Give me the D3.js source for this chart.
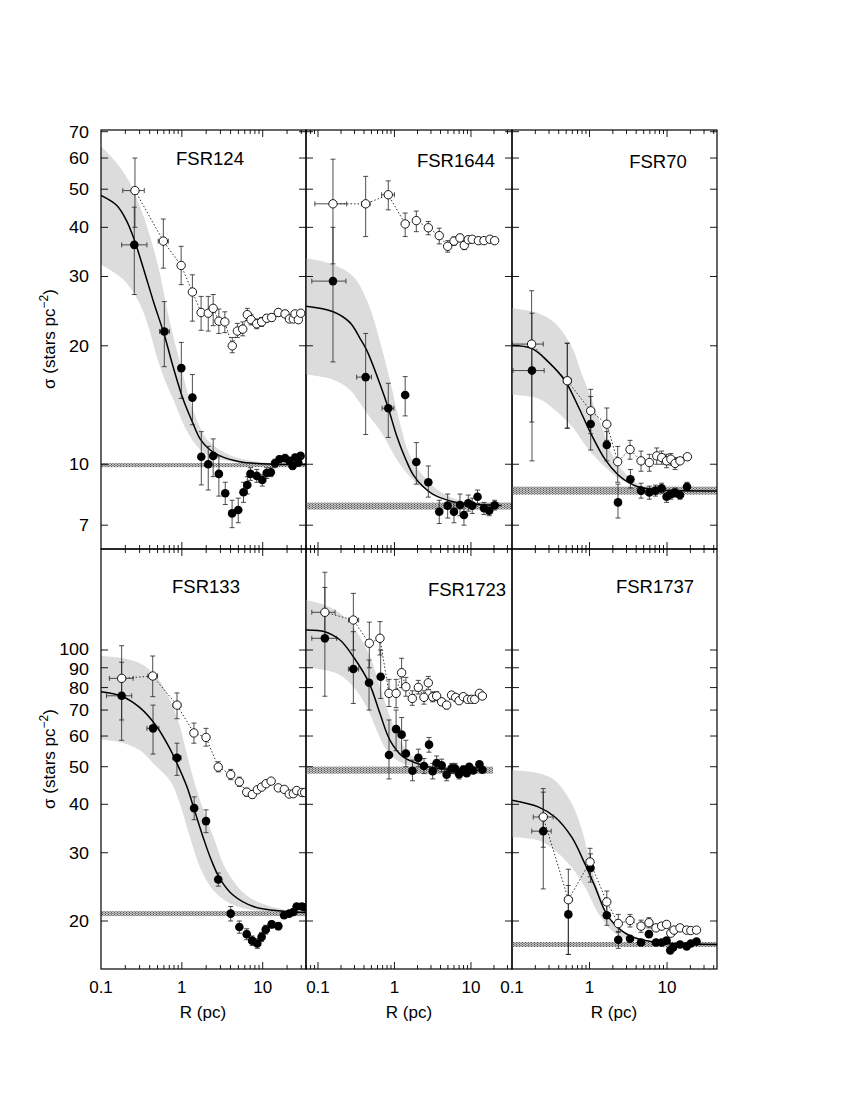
<!DOCTYPE html>
<html><head><meta charset="utf-8">
<script src="https://cdn.jsdelivr.net/npm/d3@7"></script>
<style>
body{margin:0;background:#fff}
text{font-family:"Liberation Sans",Arial,Helvetica,sans-serif;fill:#000}
</style>
</head><body>
<svg id="c" width="850" height="1100"></svg>
<script>
// ---------- tick labels ----------
const xTickLabels = [0.1, 1, 10];
const yTicksTop = [7, 10, 20, 30, 40, 50, 60, 70];
const yTicksBottom = [20, 30, 40, 50, 60, 70, 80, 90, 100];
const clusterNames = ["FSR124", "FSR1644", "FSR70", "FSR133", "FSR1723", "FSR1737"];

// rows: [R, sigma, sigmaLow, sigmaHigh, Rlow, Rhigh]
// ---------- FSR124 ----------
const FSR124_raw = [
 [0.263,49.6,40,60,0.186,0.343],[0.59,36.9,31.5,42,0.51,0.68],[0.98,32.0,28.6,35.8,0.92,1.04],
 [1.35,27.4,23.1,30.3],[1.73,24.3,21.9,26.7],[2.12,24.2,21.8,26.7],[2.44,24.9,22.5,27.0],
 [2.87,23.1,21.5,24.8],[3.4,23.0,21.6,24.4],[4.2,20.0,19.2,21.0],[4.86,21.8,21.0,22.8],
 [5.66,22.05,21.2,23.0],[6.45,24.0,23.2,24.9],[7.17,23.3,22.6,24.0],[8.43,22.75,22.1,23.4],
 [9.7,23.0,22.4,23.6],[11.2,23.5,23.0,24.0],[12.9,23.6,23.1,24.1],[15.6,24.3,23.8,24.8],
 [18.9,24.1,23.6,24.6],[21.4,23.4,23.0,23.9],[23.9,23.4,23.0,23.8],[25.1,24.1,23.7,24.5],
 [27.6,23.3,22.9,23.7],[29.5,24.2,23.8,24.6]
];
const FSR124_dec = [
 [0.258,36.1,27,45,0.18,0.37],[0.607,21.75,17.7,25.9,0.53,0.70],[0.985,17.55,14.7,20.4],
 [1.35,14.77,12.6,16.9],[1.74,10.45,8.86,12.1],[2.12,10.0,8.6,11.1],[2.44,10.5,9.3,11.6],
 [2.87,9.45,8.3,10.5],[3.44,8.44,7.9,9.0],[4.18,7.5,6.9,8.1],[4.98,7.65,7.1,8.2],
 [5.78,8.49,8.0,9.0],[6.45,8.86,8.4,9.3],[7.05,9.45,9.1,9.8],[8.43,9.34,9.0,9.7],
 [9.88,9.12,8.8,9.4],[11.2,9.5,9.2,9.8],[12.6,9.54,9.3,9.8],[14.2,10.06,9.8,10.3],
 [16.1,10.3,10.1,10.5],[18.9,10.36,10.15,10.6],[21.4,10.2,10.0,10.4],[23.4,9.9,9.7,10.1],
 [25.2,10.4,10.2,10.6],[27.5,10.1,9.9,10.3],[29.4,10.5,10.3,10.7]
];
const FSR124_fit = [[0.1,48.2],[0.156,45.5],[0.208,41.5],[0.258,37.2],[0.334,31.5],[0.443,26.0],[0.607,21.3],[0.785,17.6],[1.04,14.6],[1.35,12.8],[1.68,11.6],[2.2,10.9],[2.96,10.5],[5.2,10.15],[13.5,10.0],[34.3,9.98]];
const FSR124_bandHi = [[0.1,64.3],[0.156,58.3],[0.228,51.9],[0.303,45.2],[0.403,38.0],[0.536,30.5],[0.65,25.0],[0.8,20.8],[0.95,18.1],[1.15,15.5],[1.38,13.7],[2.03,11.6],[3.58,10.65],[6.3,10.25],[15,10.05],[34.3,10.0]];
const FSR124_bandLo = [[0.1,32.2],[0.188,29.5],[0.303,25.5],[0.4,21.8],[0.488,18.8],[0.6,16.6],[0.785,14.6],[1.14,12.2],[1.68,10.9],[2.5,10.4],[5,10.1],[34.3,9.98]];
const FSR124_bg = [9.95, 0.12, 34.3];

// ---------- FSR1644 ----------
const FSR1644_raw = [
 [0.157,45.9,32.3,59.6,0.091,0.237],[0.42,45.9,37.9,53.9,0.37,0.48],[0.83,48.4,44.3,52.5,0.68,1.0],
 [1.38,40.8,37.9,43.5],[1.93,41.6,39.0,44.0],[2.77,39.9,38.3,41.4],[3.85,38.1,36.3,39.8],
 [4.96,35.8,34.6,37.0],[6.0,36.9,36.0,37.8],[7.18,37.6,36.8,38.4],[8.18,36.0,35.1,36.9],
 [9.22,37.2,36.5,37.9],[10.4,37.3],[12.5,37.0],[14.8,37.0],[17.7,37.3],[20.4,37.0]
];
const FSR1644_dec = [
 [0.157,29.2,18.2,40,0.083,0.232],[0.42,16.65,11.9,21.5,0.32,0.5],[0.83,13.88,11.7,16.06,0.69,0.98],
 [1.38,15.0,13.27,16.7],[1.93,10.13,8.9,11.35],[2.77,9.0,8.25,9.9],[3.85,7.57,7.07,8.1],
 [4.96,7.85,7.3,8.4],[6.0,7.57,7.1,8.0],[7.18,7.88,7.4,8.4],[8.1,7.43,7.0,7.9],
 [9.22,7.96,7.6,8.35],[10.4,7.85,7.5,8.2],[12.2,8.27,7.95,8.6],[14.8,7.73,7.45,8.0],
 [17.3,7.62,7.4,7.9],[20.4,7.87,7.65,8.1]
];
const FSR1644_fit = [[0.0697,25.2],[0.158,24.4],[0.262,22.9],[0.354,20.9],[0.433,19.5],[0.646,16.0],[0.83,13.9],[1.07,11.8],[1.4,10.3],[1.76,9.4],[2.4,8.75],[3.2,8.38],[5.85,8.03],[12,7.9],[25,7.85]];
const FSR1644_bandHi = [[0.0697,33.4],[0.158,32.2],[0.29,30.0],[0.433,26.2],[0.53,23.5],[0.646,20.5],[0.87,16.4],[1.18,12.7],[1.6,10.5],[2.64,9.12],[4.3,8.44],[10,7.95],[25,7.85]];
const FSR1644_bandLo = [[0.0697,16.9],[0.158,16.4],[0.262,15.45],[0.433,13.5],[0.646,12.2],[1.18,10.0],[1.95,8.95],[3.2,8.44],[6,8.05],[25,7.85]];
const FSR1644_bg = [7.83, 0.16, 34.4];

// ---------- FSR70 ----------
const FSR70_raw = [
 [0.179,20.2,12.8,27.6,0.101,0.253],[0.517,16.3,12.35,20.3,0.46,0.58],[1.035,13.67,11.96,15.5,0.96,1.12],
 [1.67,12.64,11.5,13.9],[2.31,10.15,9.0,11.1],[3.33,10.9,10.3,11.5],[4.62,10.2,9.6,10.8],
 [5.91,10.1,9.6,10.6],[7.36,10.5,10.0,11.0],[8.52,10.4,10.0,10.8],[9.86,10.2,9.8,10.6],
 [11.2,10.3,9.95,10.65],[12.7,10.05,9.7,10.4],[14.7,10.2],[18.3,10.45]
];
const FSR70_dec = [
 [0.181,17.3,10.2,24.2,0.103,0.26],[0.517,16.3,12.35,20.3],[1.035,12.66,10.87,14.86,0.97,1.11],
 [1.67,11.2,10.2,12.1],[2.33,8.0,7.3,8.9],[3.37,9.16,8.7,9.7],[4.62,8.57,8.2,8.95],
 [5.91,8.48,8.15,8.8],[7.1,8.57,8.3,8.85],[8.52,8.69,8.45,8.95],[9.86,8.27,8.0,8.5],
 [11.2,8.39,8.15,8.6],[12.7,8.47,8.25,8.7],[14.7,8.35,8.15,8.55],[18.1,8.77,8.55,9.0]
];
const FSR70_fit = [[0.1,20.04],[0.179,19.7],[0.294,18.2],[0.483,16.3],[0.718,14.0],[1.035,12.0],[1.58,10.3],[2.33,9.4],[3.3,8.95],[4.2,8.77],[7,8.62],[11.4,8.57],[44.1,8.55]];
const FSR70_bandHi = [[0.1,24.9],[0.218,24.2],[0.358,22.85],[0.59,19.9],[0.79,17.0],[1.07,14.6],[1.43,12.5],[1.93,10.67],[2.87,9.5],[4.5,8.85],[10,8.6],[44.1,8.55]];
const FSR70_bandLo = [[0.1,15.0],[0.218,14.7],[0.358,13.74],[0.59,12.5],[0.97,10.9],[1.58,9.86],[2.59,9.12],[4.2,8.77],[10,8.6],[44.1,8.55]];
const FSR70_bg = [8.57, 0.2, 44.1];

// ---------- FSR133 ----------
const FSR133_raw = [
 [0.18,84.5,66,102.6,0.127,0.25],[0.436,85.7,75.8,96.5,0.38,0.50],[0.871,72.1,66.5,77.5,0.78,0.97],
 [1.41,61.1,57.5,64.8],[1.99,59.5,56.5,62.8],[2.82,49.9,48.5,51.5],[4.02,47.7,46.3,49.2],
 [5.14,45.7,44.5,47],[6.34,43.0,42,44],[7.44,42.4,41.5,43.3],[8.57,43.6],[9.7,44.3],
 [11.0,45.2],[12.7,45.9],[15.6,44.1],[18.5,43.7],[21.3,42.5],[23.9,42.6],[26.3,43.4],
 [30.5,42.9],[33,42.9]
];
const FSR133_dec = [
 [0.18,76.2,58.5,93,0.117,0.24],[0.44,62.8,53.9,72.1,0.37,0.52],[0.87,52.7,47.5,57.5,0.77,0.98],
 [1.42,39.1,36.5,41.8],[1.99,36.2,33.8,38.7],[2.82,25.6,24.6,26.6],[4.02,20.9,20.0,21.8],
 [5.14,19.3,18.6,20.0],[6.34,18.5,17.9,19.1],[7.4,17.8,17.3,18.3],[8.57,17.5,17.0,18.0],
 [9.7,18.2,17.7,18.7],[10.9,19.0,18.5,19.5],[12.9,19.6,19.2,20.0],[15.6,19.4,19.0,19.8],
 [18.4,20.7,20.3,21.1],[21.3,20.9],[23.9,21.1],[26.3,21.8],[30.5,21.8],[33,21.7]
];
const FSR133_fit = [[0.1,78],[0.18,76.0],[0.303,71],[0.488,63.5],[0.7,56],[0.87,51.0],[1.15,44.5],[1.45,38.3],[1.84,32.8],[2.33,28.6],[2.96,25.7],[4.33,23.3],[7.67,21.8],[18,21.2],[34.3,21.05]];
const FSR133_bandHi = [[0.1,96.5],[0.188,95.2],[0.303,92.4],[0.488,85.3],[0.715,74.3],[0.95,63.4],[1.15,54],[1.53,43.5],[2.45,33],[3.58,27.0],[6.3,23.3],[13.5,21.7],[34.3,21.1]];
const FSR133_bandLo = [[0.1,58.8],[0.188,57.6],[0.303,55.1],[0.443,51.0],[0.715,46],[0.95,40],[1.26,32.9],[1.68,27.5],[2.45,24.0],[3.95,22.2],[8,21.3],[34.3,21.05]];
const FSR133_bg = [20.9, 0.31, 34.3];

// ---------- FSR1723 ----------
const FSR1723_raw = [
 [0.123,125.1,105,145,0.083,0.167],[0.29,119.5,100,140,0.25,0.34],[0.469,104.1,90,118],
 [0.646,107.2,97.1,118.4],[0.848,77.3,71.5,84],[1.05,77.3,71,84],[1.24,87.4,80,95.2],
 [1.41,80.4,76,85],[1.71,75.0,72,78.5],[2.05,80.1,77,83.5],[2.43,75.5,72.5,78.5],
 [2.77,82.3,79,85.5],[3.16,75.7,73.5,78],[3.56,76.1,74,78],[4.14,73.5,72,75],
 [4.81,72.1,70.5,73.5],[5.58,76.5],[6.3,75.5],[7.0,74.0],[7.94,75.8],[9.05,74.6],
 [10.2,74.6],[11.2,74.6],[12.9,77.3],[14.1,76.1]
];
const FSR1723_dec = [
 [0.123,107.2,76,158.7,0.083,0.175],[0.29,89.3,72.8,111.5,0.25,0.34],[0.465,82.3,70,94.2],
 [0.66,85.3,75,100],[0.848,53.6,46.5,66],[1.05,62.5,55,70],[1.24,60.5,54,67],
 [1.41,54.1,50,58.5],[1.72,48.8,46,52],[2.05,52.7,50,55.5],[2.43,50.2,48,52.5],
 [2.83,57.0,54.5,59.5],[3.16,48.7,46.5,51],[3.56,51.1,49,53.3],[4.14,50.4,48.5,52.3],
 [4.81,47.7,46,49.4],[5.58,49.5,48,51],[6.2,49.5,48,51],[7.0,47.8,46.5,49.2],
 [7.94,49.1,48,50.3],[8.8,48.1],[9.5,50.0],[10.7,48.9],[12.9,50.7],[14.1,49.1]
];
const FSR1723_fit = [[0.0697,112.6],[0.123,111.5],[0.194,106.1],[0.29,96.1],[0.465,82.3],[0.646,68.6],[0.874,58.5],[1.3,53.0],[2.37,50.4],[4.5,49.3],[15,49.0]];
const FSR1723_bandHi = [[0.0697,134.6],[0.123,130.7],[0.194,124.4],[0.32,111.5],[0.48,96.1],[0.646,80.4],[0.874,67.3],[1.18,58.5],[1.76,53.0],[3.2,50.4],[6,49.5],[15,49.0]];
const FSR1723_bandLo = [[0.0697,90.6],[0.123,88.8],[0.194,86.2],[0.29,80.4],[0.433,71.4],[0.585,62.1],[0.79,55.1],[1.18,51.4],[1.95,49.9],[4,49.2],[15,49.0]];
const FSR1723_bg = [49.0, 1.03, 19.4];

// ---------- FSR1737 ----------
const FSR1737_raw = [
 [0.253,37.1,31,43,0.188,0.34],[0.533,22.7,16.4,27.2,0.48,0.59],[1.015,28.4,26.0,30.8,0.92,1.1],
 [1.67,22.4,21.0,23.9],[2.35,19.7,18.7,20.8],[3.33,20.06,19.3,20.8],[4.62,19.4,18.7,20.1],
 [5.84,19.8,19.2,20.4],[7.2,19.2],[8.52,19.4],[9.86,19.6],[11.2,18.6],[12.3,18.95],
 [14.7,19.2],[17.9,18.95],[20.3,18.9],[24,18.95]
];
const FSR1737_dec = [
 [0.253,34.1,24.2,43.9,0.18,0.32],[0.533,20.8,16.4,24.7],[1.03,27.4,25.2,29.8,0.94,1.12],
 [1.67,20.7,19.5,22.0],[2.35,17.9,17.0,18.8],[3.33,18.0],[4.62,17.6],[5.84,18.5],[7.2,17.6],
 [8.52,17.6],[9.86,17.8],[11.0,16.8],[12.0,17.1],[14.7,17.4],[17.9,17.2],[20.3,17.5],[24,17.7]
];
const FSR1737_fit = [[0.1,41.0],[0.218,39.4],[0.358,37.1],[0.59,32.9],[0.87,28.1],[1.18,24.5],[1.67,20.8],[2.59,18.9],[4.2,18.0],[8,17.6],[44.1,17.4]];
const FSR1737_bandHi = [[0.1,49.0],[0.2,48.3],[0.358,46.1],[0.59,40.2],[0.8,34.3],[0.97,29.5],[1.3,24.0],[1.93,20.1],[3.5,18.2],[8,17.6],[44.1,17.4]];
const FSR1737_bandLo = [[0.1,32.9],[0.218,32.3],[0.358,30.4],[0.59,27.5],[0.87,24.5],[1.3,20.9],[1.93,18.9],[3,18.0],[8,17.5],[44.1,17.4]];
const FSR1737_bg = [17.4, 0.26, 44.1];

// ---------- layout ----------
const rowsLayout = [
  {y0:130, y1:549, dom:[6.09,70.7], ticks:yTicksTop, labelY:339},
  {y0:549, y1:969, dom:[15.04,182.2], ticks:yTicksBottom, labelY:759}
];
const colsLayout = [
  {x0:101, x1:306, dom:[0.1,34.3], labelX:203},
  {x0:306, x1:512, dom:[0.0697,34.4], labelX:409},
  {x0:512, x1:717, dom:[0.1,44.1], labelX:614}
];
const panels = [
  {row:0,col:0,raw:FSR124_raw,dec:FSR124_dec,fit:FSR124_fit,hi:FSR124_bandHi,lo:FSR124_bandLo,bg:FSR124_bg,tx:210,ty:165},
  {row:0,col:1,raw:FSR1644_raw,dec:FSR1644_dec,fit:FSR1644_fit,hi:FSR1644_bandHi,lo:FSR1644_bandLo,bg:FSR1644_bg,tx:456,ty:167},
  {row:0,col:2,raw:FSR70_raw,dec:FSR70_dec,fit:FSR70_fit,hi:FSR70_bandHi,lo:FSR70_bandLo,bg:FSR70_bg,tx:658,ty:168},
  {row:1,col:0,raw:FSR133_raw,dec:FSR133_dec,fit:FSR133_fit,hi:FSR133_bandHi,lo:FSR133_bandLo,bg:FSR133_bg,tx:206,ty:593},
  {row:1,col:1,raw:FSR1723_raw,dec:FSR1723_dec,fit:FSR1723_fit,hi:FSR1723_bandHi,lo:FSR1723_bandLo,bg:FSR1723_bg,tx:467,ty:596},
  {row:1,col:2,raw:FSR1737_raw,dec:FSR1737_dec,fit:FSR1737_fit,hi:FSR1737_bandHi,lo:FSR1737_bandLo,bg:FSR1737_bg,tx:655,ty:593}
];

const svg = d3.select('#c');
const defs = svg.append('defs');
const pat = defs.append('pattern').attr('id','bgpat').attr('patternUnits','userSpaceOnUse')
  .attr('width',3).attr('height',2);
pat.append('rect').attr('width',3).attr('height',2).attr('fill','#c4c4c4');
pat.append('rect').attr('width',1).attr('height',1).attr('fill','#555');
pat.append('rect').attr('x',1.5).attr('y',1).attr('width',1).attr('height',1).attr('fill','#555');

const FONT = 17;
const TICKFONT = 16;

panels.forEach((p, i) => {
  const R = rowsLayout[p.row], C = colsLayout[p.col];
  const x = d3.scaleLog().domain(C.dom).range([C.x0, C.x1]);
  const y = d3.scaleLog().domain(R.dom).range([R.y1, R.y0]);
  const cid = 'clip' + i;
  defs.append('clipPath').attr('id', cid).append('rect')
    .attr('x', C.x0).attr('y', R.y0).attr('width', C.x1 - C.x0).attr('height', R.y1 - R.y0);
  const g = svg.append('g').attr('clip-path', `url(#${cid})`);
  const line = d3.line().x(d => x(d[0])).y(d => y(d[1])).curve(d3.curveCatmullRom.alpha(0.5));

  // uncertainty band
  const upPath = line(p.hi);
  const loPath = line(p.lo.slice().reverse());
  g.append('path').attr('d', upPath + 'L' + loPath.slice(1) + 'Z')
    .attr('fill', '#dcdcdc').attr('stroke', 'none');

  // background level band
  const [bgv, bge, bgmax] = p.bg;
  g.append('rect').attr('x', C.x0).attr('width', x(bgmax) - C.x0)
    .attr('y', y(bgv + bge)).attr('height', y(bgv - bge) - y(bgv + bge))
    .attr('fill', 'url(#bgpat)');

  // fit line
  g.append('path').attr('d', line(p.fit)).attr('fill', 'none')
    .attr('stroke', '#000').attr('stroke-width', 1.5);

  // dotted line through raw profile
  g.append('path').attr('d', d3.line().x(d => x(d[0])).y(d => y(d[1]))(p.raw))
    .attr('fill', 'none').attr('stroke', '#000').attr('stroke-width', 0.8)
    .attr('stroke-dasharray', '1.5,2');

  function errBars(data) {
    data.forEach(d => {
      const cx = x(d[0]), cy = y(d[1]);
      if (d.length >= 4) {
        const yt = y(d[3]), yb = y(d[2]);
        g.append('line').attr('x1', cx).attr('x2', cx).attr('y1', yt).attr('y2', yb)
          .attr('stroke', '#222').attr('stroke-width', 0.8);
        [yt, yb].forEach(yy => g.append('line').attr('x1', cx - 2.5).attr('x2', cx + 2.5)
          .attr('y1', yy).attr('y2', yy).attr('stroke', '#222').attr('stroke-width', 0.8));
      }
      if (d.length >= 6) {
        const xl = x(d[4]), xr = x(d[5]);
        g.append('line').attr('x1', xl).attr('x2', xr).attr('y1', cy).attr('y2', cy)
          .attr('stroke', '#222').attr('stroke-width', 0.8);
        [xl, xr].forEach(xx => g.append('line').attr('x1', xx).attr('x2', xx)
          .attr('y1', cy - 2.5).attr('y2', cy + 2.5).attr('stroke', '#222').attr('stroke-width', 0.8));
      }
    });
  }
  errBars(p.raw);
  errBars(p.dec);

  g.selectAll(null).data(p.dec).enter().append('circle')
    .attr('cx', d => x(d[0])).attr('cy', d => y(d[1])).attr('r', 4.3).attr('fill', '#000');
  g.selectAll(null).data(p.raw).enter().append('circle')
    .attr('cx', d => x(d[0])).attr('cy', d => y(d[1])).attr('r', 4.2)
    .attr('fill', '#fff').attr('stroke', '#000').attr('stroke-width', 0.9);

  // frame
  svg.append('rect').attr('x', C.x0).attr('y', R.y0).attr('width', C.x1 - C.x0)
    .attr('height', R.y1 - R.y0).attr('fill', 'none').attr('stroke', '#000').attr('stroke-width', 1.2);

  // x ticks (top & bottom, inward)
  const xt = [];
  [0.01, 0.1, 1, 10].forEach(dec => { for (let m = 1; m <= 9; m++) { const v = +(m * dec).toPrecision(3); if (v >= C.dom[0] * 1.0001 && v <= C.dom[1]) xt.push([v, m === 1]); } });
  xt.forEach(([v, major]) => {
    const xx = x(v), len = major ? 7 : 4;
    svg.append('line').attr('x1', xx).attr('x2', xx).attr('y1', R.y1).attr('y2', R.y1 - len).attr('stroke', '#000').attr('stroke-width', 0.9);
    svg.append('line').attr('x1', xx).attr('x2', xx).attr('y1', R.y0).attr('y2', R.y0 + len).attr('stroke', '#000').attr('stroke-width', 0.9);
  });
  // y ticks (left & right, inward)
  R.ticks.forEach(v => {
    const yy = y(v);
    svg.append('line').attr('x1', C.x0).attr('x2', C.x0 + 7).attr('y1', yy).attr('y2', yy).attr('stroke', '#000').attr('stroke-width', 0.9);
    svg.append('line').attr('x1', C.x1).attr('x2', C.x1 - 7).attr('y1', yy).attr('y2', yy).attr('stroke', '#000').attr('stroke-width', 0.9);
  });

  // y tick labels
  if (p.col === 0) {
    R.ticks.forEach(v => {
      const nudge = v === 100 ? -1.2 : (v === 90 ? 1.2 : 0);
      svg.append('text').attr('x', 89).attr('y', y(v) + 6 + nudge)
        .attr('text-anchor', 'end').attr('font-size', TICKFONT)
        .attr('transform', `translate(89,0) scale(1.12,1) translate(-89,0)`).text(v);
    });
    const yl = svg.append('text').attr('transform', `translate(55,${R.labelY}) rotate(-90)`)
      .attr('text-anchor', 'middle').attr('font-size', FONT);
    yl.append('tspan').text('σ (stars pc');
    yl.append('tspan').attr('font-size', 12).attr('dy', -7).text('−2');
    yl.append('tspan').attr('dy', 7).text(')');
  }
  // x tick labels
  if (p.row === 1) {
    xTickLabels.forEach(v => svg.append('text').attr('x', x(v)).attr('y', 993)
      .attr('text-anchor', 'middle').attr('font-size', FONT).text(v));
    svg.append('text').attr('x', C.labelX).attr('y', 1018).attr('text-anchor', 'middle')
      .attr('font-size', FONT).text('R (pc)');
  }
  // title
  svg.append('text').attr('x', p.tx).attr('y', p.ty).attr('text-anchor', 'middle')
    .attr('font-size', 18.5).text(clusterNames[i]);
});
</script>
</body></html>
